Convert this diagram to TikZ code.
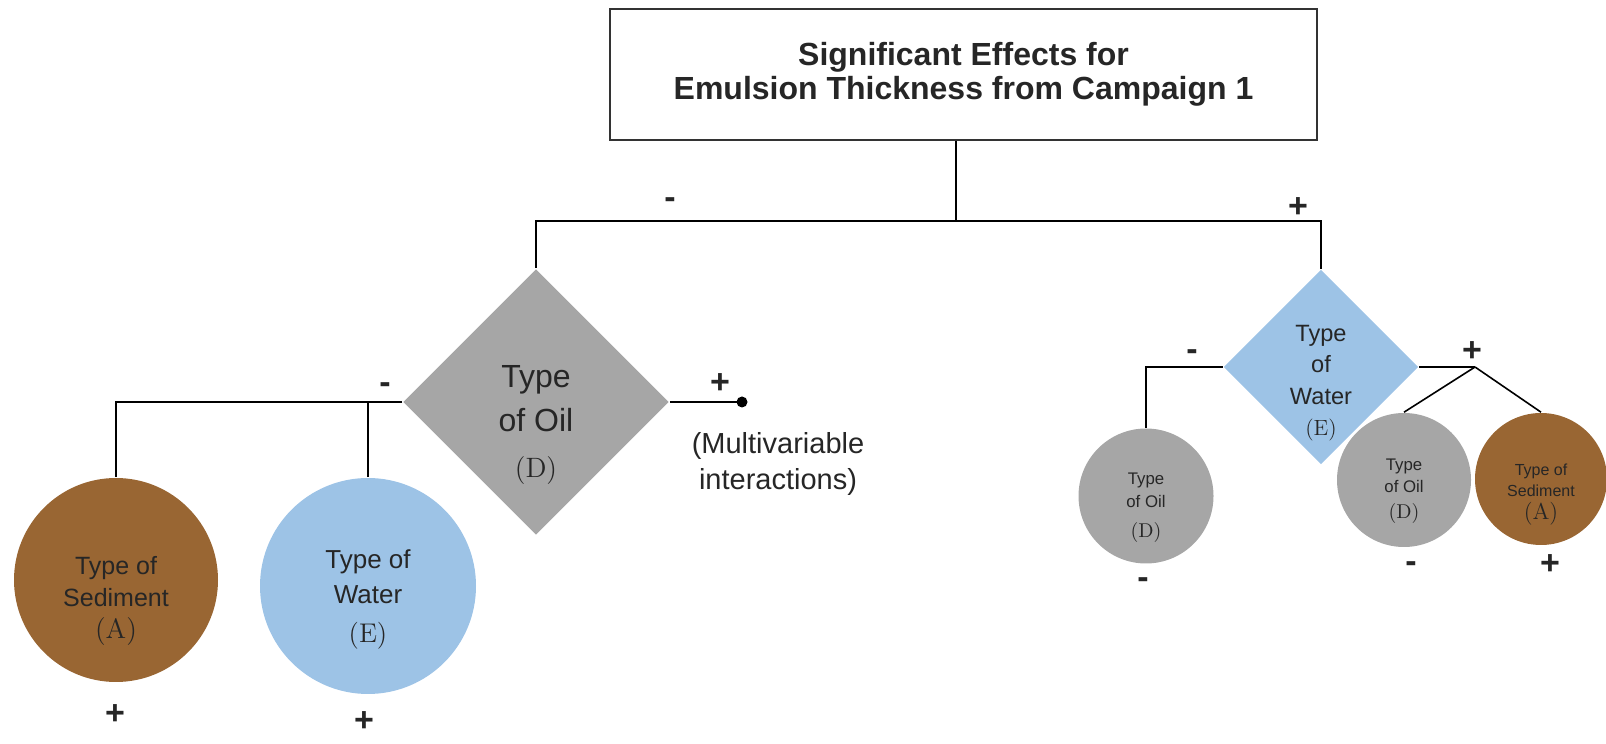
\documentclass[tikz,border=0pt]{standalone}
\usepackage{fontspec}
\usepackage{tikz}
\usetikzlibrary{shapes.geometric}
\newfontfamily\arial{Liberation Sans}
\definecolor{sedbrown}{HTML}{996633}
\definecolor{oilgray}{HTML}{A6A6A6}
\definecolor{waterblue}{HTML}{9DC3E6}
\newcommand{\lm}[1]{\rmfamily\fontsize{#1}{#1}\selectfont}

\begin{document}
\begin{tikzpicture}[x=5pt,y=5pt,line width=.8pt,
	every node/.style={align=center,text=black!85,inner sep=0pt},
	titlebox/.style={rectangle,draw=black!80,minimum width=353.5pt,minimum height=65.5pt,font=\arial\bfseries\fontsize{16}{17}\selectfont},
	dia/.style={diamond,draw=none},
	ball/.style={circle,draw=none},
	dot/.style={circle,fill=black,minimum size=5.5pt},
	sign/.style={font=\arial\bfseries\fontsize{17}{17}\selectfont},
	minus/.style={sign,yshift=-1.5pt}]
	\useasboundingbox (0,0) rectangle (160.6,74.4);

	%title
	\node [titlebox] (top) at (96.35,66.95) {Significant Effects for\\Emulsion Thickness from Campaign 1};
	\coordinate (split) at (95.6,52.3);

	%left part
	\node [dia,fill=oilgray,minimum width=133pt,minimum height=133pt] (oil) at (53.6,34.2) {};
	\node [font=\arial\fontsize{16}{22}\selectfont] (oilt) at (53.6,31.9) {Type\\of Oil\\[1pt]{\lm{14}(D)}};
	\node [ball,fill=sedbrown,minimum size=102pt] (sedL) at (11.6,16.4) {};
	\node [font=\arial\fontsize{12.5}{16}\selectfont] (sedLt) at (11.6,14.3) {Type of\\Sediment\\{\lm{14}(A)}};
	\node [ball,fill=waterblue,minimum size=108pt] (watL) at (36.8,15.8) {};
	\node [font=\arial\fontsize{13}{17.5}\selectfont] (watLt) at (36.8,14.5) {Type of\\Water\\[2pt]{\lm{13.5}(E)}};
	\node [dot] (end) at (74.2,34.2) {};
	\node [font=\arial\fontsize{14.5}{18}\selectfont] (multi) at (77.8,28.0) {(Multivariable\\interactions)};

	%right part
	\node [dia,fill=waterblue,minimum width=97.5pt,minimum height=97.5pt] (watR) at (132.1,37.7) {};
	\node [font=\arial\fontsize{11.8}{15.75}\selectfont] (watRt) at (132.1,36.1) {Type\\of\\Water\\{\lm{11}(E)}};
	\node [ball,fill=oilgray,minimum size=67.5pt] (oilRa) at (114.6,24.8) {};
	\node [font=\arial\fontsize{8.4}{11.5}\selectfont] (oilRat) at (114.6,23.6) {Type\\of Oil\\[3.5pt]{\lm{10}(D)}};
	\node [ball,fill=oilgray,minimum size=67pt] (oilRb) at (140.4,26.4) {};
	\node [font=\arial\fontsize{8.4}{11}\selectfont] (oilRbt) at (140.4,25.25) {Type\\of Oil\\[2pt]{\lm{10}(D)}};
	\node [ball,fill=sedbrown,minimum size=66pt] (sedRb) at (154.1,26.5) {};
	\node [font=\arial\fontsize{8}{10.5}\selectfont] (sedRbt) at (154.1,24.95) {Type of\\Sediment\\[1pt]{\lm{11.5}(A)}};
	\coordinate (fork) at (147.5,37.7);

	%signs
	\node [minus] (m0) at (67.0,54.4) {-};
	\node [sign] (p0) at (129.8,53.6) {+};
	\node [minus] (m1) at (38.5,35.9) {-};
	\node [sign] (p1) at (72.0,36.0) {+};
	\node [sign] (p2) at (11.5,2.9) {+};
	\node [sign] (p3) at (36.4,2.2) {+};
	\node [minus] (m2) at (119.2,39.2) {-};
	\node [sign] (p4) at (147.2,39.2) {+};
	\node [minus] (m3) at (114.3,16.4) {-};
	\node [minus] (m4) at (141.1,18.0) {-};
	\node [sign] (p5) at (155.0,17.9) {+};

	%edges
	\draw (top.south -| split) -- (split);
	\draw (oil.north) |- (split) -| (watR.north);
	\draw (oil.west) -| (sedL.north);
	\draw (watL.north) -- (watL.north |- oil.west);
	\draw (oil.east) -- (end.center);
	\draw (watR.west) -| (oilRa.north);
	\draw (watR.east) -- (fork);
	\draw (fork) -- (oilRb.north);
	\draw (fork) -- (sedRb.north);
\end{tikzpicture}
\end{document}
